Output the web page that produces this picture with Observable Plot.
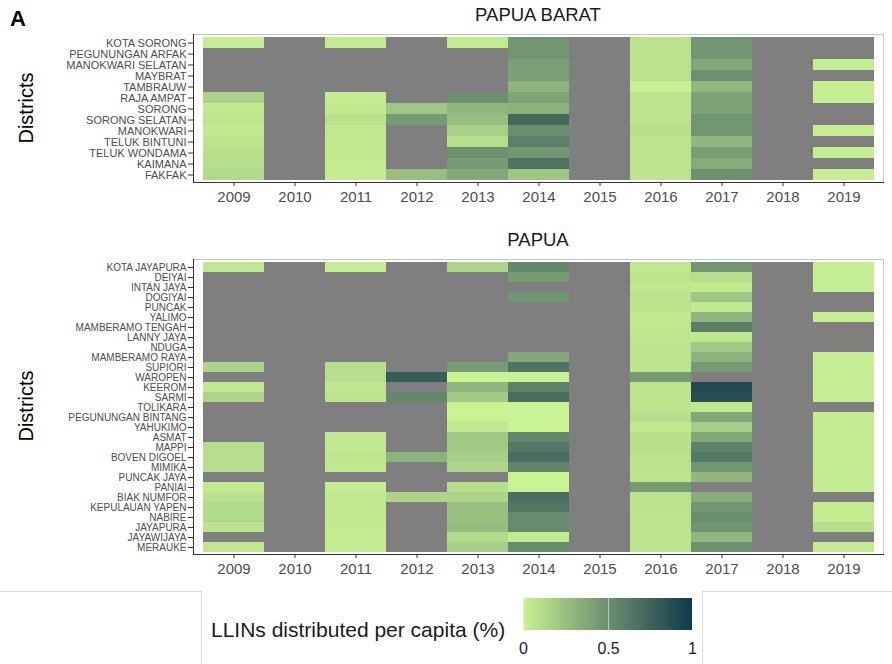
<!DOCTYPE html>
<html><head><meta charset="utf-8">
<script src="https://cdn.jsdelivr.net/npm/d3@7"></script>
<script src="https://cdn.jsdelivr.net/npm/@observablehq/plot@0.6"></script>
<style>
body{margin:0;background:#fff;font-family:"Liberation Sans",Arial,sans-serif;}
#root{position:relative;width:892px;height:664px;overflow:hidden;background:#fff;}
.abs{position:absolute;}
.ptitle{position:absolute;font-size:18.5px;color:#1a1a1a;transform:translate(-50%,-50%);white-space:nowrap;}
.ytitle{position:absolute;font-size:20px;color:#000;transform:translate(-50%,-50%) rotate(-90deg);white-space:nowrap;}
.box{position:absolute;border:1px solid #dcdcdc;}
</style></head><body><div id="root"></div><script>
const years = ["2009","2010","2011","2012","2013","2014","2015","2016","2017","2018","2019"];
const N = null;

const baratDistricts = ["KOTA SORONG","PEGUNUNGAN ARFAK","MANOKWARI SELATAN","MAYBRAT","TAMBRAUW","RAJA AMPAT","SORONG","SORONG SELATAN","MANOKWARI","TELUK BINTUNI","TELUK WONDAMA","KAIMANA","FAKFAK"];
const baratValues = [
  [0.02, N, 0.03, N, 0.03, 0.47, N, 0.08, 0.47, N, N],
  [N, N, N, N, N, 0.47, N, 0.08, 0.47, N, N],
  [N, N, N, N, N, 0.42, N, 0.08, 0.38, N, 0.02],
  [N, N, N, N, N, 0.42, N, 0.08, 0.50, N, N],
  [N, N, N, N, N, 0.32, N, 0.01, 0.30, N, 0.02],
  [0.16, N, 0.03, N, 0.50, 0.40, N, 0.07, 0.41, N, 0.02],
  [0.05, N, 0.04, 0.22, 0.30, 0.33, N, 0.07, 0.41, N, N],
  [0.06, N, 0.08, 0.45, 0.26, 0.72, N, 0.07, 0.48, N, N],
  [0.04, N, 0.05, N, 0.17, 0.52, N, 0.09, 0.48, N, 0.02],
  [0.07, N, 0.04, N, 0.10, 0.60, N, 0.07, 0.30, N, N],
  [0.09, N, 0.04, N, 0.50, 0.47, N, 0.07, 0.43, N, 0.02],
  [0.10, N, 0.03, N, 0.45, 0.66, N, 0.07, 0.36, N, N],
  [0.12, N, 0.03, 0.26, 0.38, 0.22, N, 0.07, 0.50, N, 0.02]
];

const papuaDistricts = ["KOTA JAYAPURA","DEIYAI","INTAN JAYA","DOGIYAI","PUNCAK","YALIMO","MAMBERAMO TENGAH","LANNY JAYA","NDUGA","MAMBERAMO RAYA","SUPIORI","WAROPEN","KEEROM","SARMI","TOLIKARA","PEGUNUNGAN BINTANG","YAHUKIMO","ASMAT","MAPPI","BOVEN DIGOEL","MIMIKA","PUNCAK JAYA","PANIAI","BIAK NUMFOR","KEPULAUAN YAPEN","NABIRE","JAYAPURA","JAYAWIJAYA","MERAUKE"];
const papuaValues = [
  [0.05, N, 0.02, N, 0.15, 0.55, N, 0.05, 0.48, N, 0.02],
  [N, N, N, N, N, 0.45, N, 0.07, 0.10, N, 0.02],
  [N, N, N, N, N, N, N, 0.05, 0.05, N, 0.02],
  [N, N, N, N, N, 0.48, N, 0.08, 0.22, N, N],
  [N, N, N, N, N, N, N, 0.08, 0.05, N, N],
  [N, N, N, N, N, N, N, 0.05, 0.30, N, 0.02],
  [N, N, N, N, N, N, N, 0.05, 0.60, N, N],
  [N, N, N, N, N, N, N, 0.06, 0.04, N, N],
  [N, N, N, N, N, N, N, 0.07, 0.20, N, N],
  [N, N, N, N, N, 0.38, N, 0.07, 0.32, N, 0.02],
  [0.15, N, 0.10, N, 0.45, 0.66, N, 0.07, 0.45, N, 0.02],
  [N, N, 0.10, 0.80, 0.00, 0.00, N, 0.45, N, N, 0.02],
  [0.05, N, 0.06, N, 0.30, 0.58, N, 0.07, 0.90, N, 0.02],
  [0.15, N, 0.07, 0.55, 0.20, 0.70, N, 0.07, 0.88, N, 0.02],
  [N, N, N, N, 0.00, 0.00, N, 0.07, 0.05, N, N],
  [N, N, N, N, 0.00, 0.00, N, 0.10, 0.38, N, 0.03],
  [N, N, N, N, 0.05, 0.00, N, 0.05, 0.18, N, 0.03],
  [N, N, 0.04, N, 0.22, 0.55, N, 0.09, 0.38, N, 0.03],
  [0.10, N, 0.04, N, 0.20, 0.63, N, 0.09, 0.58, N, 0.03],
  [0.10, N, 0.06, 0.32, 0.18, 0.70, N, 0.08, 0.63, N, 0.03],
  [0.10, N, 0.05, N, 0.15, 0.57, N, 0.08, 0.48, N, 0.03],
  [N, N, N, N, N, 0.00, N, 0.07, 0.30, N, 0.03],
  [0.04, N, 0.03, N, 0.10, 0.00, N, 0.45, N, N, 0.03],
  [0.08, N, 0.04, 0.15, 0.15, 0.70, N, 0.08, 0.35, N, N],
  [0.12, N, 0.04, N, 0.25, 0.65, N, 0.08, 0.47, N, 0.03],
  [0.12, N, 0.04, N, 0.25, 0.53, N, 0.07, 0.52, N, 0.03],
  [0.07, N, 0.03, N, 0.27, 0.53, N, 0.07, 0.48, N, 0.10],
  [N, N, 0.03, N, 0.12, 0.03, N, 0.07, 0.30, N, N],
  [0.05, N, 0.03, N, 0.18, 0.53, N, 0.07, 0.50, N, 0.03]
];

const colorLow = "#c9f293";
const colorHigh = "#0c3b4a";
const naColor = "#7f7f7f";
const legendTicks = [0, 0.5, 1];
const legendTitle = "LLINs distributed per capita (%)";
const panelTitles = ["PAPUA BARAT", "PAPUA"];
const yTitle = "Districts";

const FONT = '"Liberation Sans", Arial, sans-serif';
const colorScale = {type: "linear", domain: [0, 1], range: [colorLow, colorHigh], interpolate: "lab"};

function panel(districts, values, panelHeight, labelSize) {
  const cells = districts.flatMap((district, i) => years.map((year, j) => ({district, year, value: values[i][j]})));
  return Plot.plot({
    width: 892, height: panelHeight + 35,
    marginTop: 5, marginBottom: 30, marginLeft: 193, marginRight: 9,
    style: {fontFamily: FONT, fontSize: "11px", color: "#4d4d4d", background: "transparent", overflow: "visible"},
    x: {domain: years, paddingInner: 0, paddingOuter: 0.1, label: null, axis: null},
    y: {domain: districts, paddingInner: 0, paddingOuter: 0.1, label: null, axis: null},
    color: colorScale,
    marks: [
      Plot.cell(cells, {x: "year", y: "district", fill: naColor, inset: 0}),
      Plot.cell(cells.filter(d => d.value != null), {x: "year", y: "district", fill: "value", inset: 0}),
      Plot.frame({stroke: "#c4c4c4"}),
      Plot.frame({anchor: "left", stroke: "#333"}),
      Plot.frame({anchor: "bottom", stroke: "#333"}),
      Plot.axisX({tickSize: 4, tickPadding: 5, fontSize: 15, stroke: "#333", label: null}),
      Plot.axisY({tickSize: 5, tickPadding: 2, fontSize: labelSize, stroke: "#333", label: null})
    ]
  });
}

const root = document.getElementById("root");
function place(el, left, top) { el.style.position = "absolute"; el.style.left = left + "px"; el.style.top = top + "px"; root.appendChild(el); return el; }
function textDiv(cls, txt, x, y, extra) { const d = document.createElement("div"); d.className = cls; d.textContent = txt; d.style.left = x + "px"; d.style.top = y + "px"; if (extra) Object.assign(d.style, extra); root.appendChild(d); return d; }

// Panel A label
textDiv("abs", "A", 10, 6, {fontSize: "22px", fontWeight: "bold", color: "#000"});

// Top panel
place(panel(baratDistricts, baratValues, 148, 11), 0, 29);
textDiv("ptitle", panelTitles[0], 538, 15);
textDiv("ytitle", yTitle, 26, 108);

// Bottom panel
const p2 = place(panel(papuaDistricts, papuaValues, 295, 10), 0, 254);
p2.querySelectorAll("text").forEach(t => { if (t.getAttribute("text-anchor") === "end") t.style.letterSpacing = "0.25px"; });
textDiv("ptitle", panelTitles[1], 538, 240);
textDiv("ytitle", yTitle, 26, 406);

// Legend boxes
const b1 = document.createElement("div"); b1.className = "box"; Object.assign(b1.style, {left: "-10px", top: "591px", width: "210px", height: "120px"}); root.appendChild(b1);
const b2 = document.createElement("div"); b2.className = "box"; Object.assign(b2.style, {left: "702px", top: "591px", width: "220px", height: "120px"}); root.appendChild(b2);

// Legend
textDiv("abs", legendTitle, 211, 618, {fontSize: "21px", color: "#1a1a1a", whiteSpace: "nowrap"});
const leg = Plot.legend({
  color: {...colorScale},
  width: 190, height: 64, marginTop: 2, marginBottom: 30, marginLeft: 11, marginRight: 10,
  ticks: legendTicks, tickSize: 0, tickFormat: d => String(d),
  style: {fontFamily: FONT, fontSize: "16px", color: "#1a1a1a", background: "transparent", overflow: "visible"}
});
const legSvg = leg.tagName.toLowerCase() === "svg" ? leg : leg.querySelector("svg");
legSvg.querySelectorAll(".tick line").forEach(l => { l.setAttribute("stroke", "#fff"); l.setAttribute("stroke-opacity", "0.5"); l.setAttribute("y2", "0"); });
legSvg.querySelectorAll(".tick text").forEach(t => { t.setAttribute("y", "13"); t.setAttribute("fill", "#1a1a1a"); });
place(leg, 512, 596);
</script></body></html>
